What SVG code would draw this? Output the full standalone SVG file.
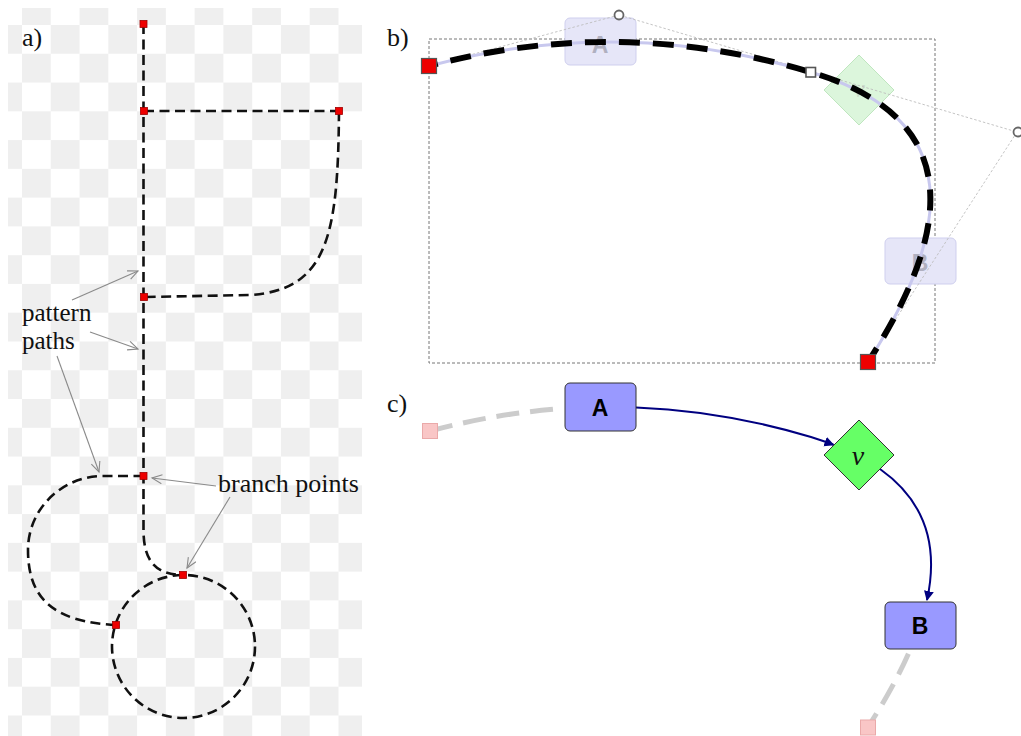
<svg xmlns="http://www.w3.org/2000/svg" width="1021" height="736" viewBox="0 0 1021 736">
<style>
.lbl{font-family:"Liberation Serif","Times New Roman",serif;font-size:26px;fill:#111}
.lbl2{font-family:"Liberation Serif","Times New Roman",serif;font-size:25px;fill:#111}
.pp{fill:none;stroke:#111;stroke-width:2.6;stroke-dasharray:10,5.5}
.rp{fill:#ee0000;stroke:#a00000;stroke-width:0.8}
.ann{fill:none;stroke:#8a8a8a;stroke-width:1.1;marker-end:url(#open)}
.handle{fill:none;stroke:#bdbdbd;stroke-width:0.9;stroke-dasharray:2.5,2}
.big{fill:#ee0000;stroke:#555;stroke-width:1.2}
.ghost{fill:#e6e6f8;stroke:#cfcfee;stroke-width:1}
.node{fill:#9999ff;stroke:#333;stroke-width:1}
.ntxt{font-family:"Liberation Sans",Arial,sans-serif;font-weight:bold;font-size:23px;text-anchor:middle}
.edge{fill:none;stroke:#000080;stroke-width:2;marker-end:url(#tri)}
.gdash{fill:none;stroke:#cccccc;stroke-width:5;stroke-dasharray:23,11}
.pink{fill:#f9c6c6;stroke:#eaa9a9;stroke-width:1}
</style>
<defs>
<pattern id="chk" patternUnits="userSpaceOnUse" x="-6.77" y="-3.77" width="57.54" height="57.54">
<rect x="28.77" y="0" width="28.77" height="28.77" fill="#efefef"/>
<rect x="0" y="28.77" width="28.77" height="28.77" fill="#efefef"/>
</pattern>
<marker id="open" markerUnits="userSpaceOnUse" markerWidth="14" markerHeight="12" refX="11" refY="5" orient="auto">
<path d="M1,0.5 L11,5 L1,9.5" fill="none" stroke="#8a8a8a" stroke-width="1.1"/>
</marker>
<marker id="tri" markerUnits="userSpaceOnUse" markerWidth="12" markerHeight="12" refX="9" refY="5" orient="auto">
<path d="M0,0 L10,5 L0,10 Z" fill="#000080"/>
</marker>
</defs>
<rect width="1021" height="736" fill="#ffffff"/>

<!-- Panel a -->
<g id="panel-a">
<rect x="8" y="8" width="354" height="728" fill="url(#chk)"/>
<text class="lbl" x="22" y="46">a)</text>
<g id="pattern-paths">
<path class="pp" d="M143.5,24 L143.5,476 L143.5,530 C143.5,560 155,575 183,575"/>
<path class="pp" d="M144,111 L339,111"/>
<path class="pp" d="M339,111 C338,235 328,290 250,295 L144,297"/>
<path class="pp" d="M143.5,476 L100,476 C60,478 28,510 28,550 C28,600 55,622 116,625"/>
<circle class="pp" cx="183.5" cy="646.5" r="71.5"/>
</g>
<g id="branch-points">
<rect class="rp" x="140" y="20.5" width="7" height="7"/>
<rect class="rp" x="140.5" y="107.5" width="7" height="7"/>
<rect class="rp" x="335.5" y="107.5" width="7" height="7"/>
<rect class="rp" x="140.5" y="293.5" width="7" height="7"/>
<rect class="rp" x="140" y="472.5" width="7" height="7"/>
<rect class="rp" x="179.5" y="571.5" width="7" height="7"/>
<rect class="rp" x="112.5" y="621.5" width="7" height="7"/>
</g>
<g id="annotations">
<text class="lbl2" x="22" y="321">pattern</text>
<text class="lbl2" x="22" y="349">paths</text>
<text class="lbl" x="218" y="492">branch points</text>
<path class="ann" d="M72,300 L138,271"/>
<path class="ann" d="M90,332 L138,349"/>
<path class="ann" d="M57,356 L99,472"/>
<path class="ann" d="M216,486 L152,478"/>
<path class="ann" d="M230,497 L187,568"/>
</g>
</g>

<!-- Panel b -->
<g id="panel-b">
<text class="lbl" x="387" y="46">b)</text>
<rect x="429" y="39" width="506" height="324" fill="none" stroke="#777" stroke-width="1" stroke-dasharray="3,2"/>
<g id="b-ghost-A"><rect class="ghost" x="565" y="18" width="71" height="47" rx="5"/><text class="ntxt" x="600" y="53" fill="#b0b0c0">A</text></g>
<g id="b-ghost-v"><path d="M859,55 L894,90 L859,125 L824,90 Z" fill="#dcf6dc" stroke="#bfe6bf" stroke-width="1"/><text x="859" y="97" text-anchor="middle" font-family="Liberation Serif,serif" font-style="italic" font-size="26" fill="#c9dcc9">v</text></g>
<g id="b-ghost-B"><rect class="ghost" x="885" y="238" width="71" height="46" rx="5"/><text class="ntxt" x="920" y="271" fill="#b0b0c0">B</text></g>
<g id="b-handles">
<path class="handle" d="M429,66 L619,15 L1017,132 L868,362"/>
</g>
<g id="b-path">
<path d="M429,66 Q619,15 810,72 Q1017,132 868,362" fill="none" stroke="#c8c8ee" stroke-width="3"/>
<path d="M429,66 Q619,15 810,72 Q1017,132 868,362" fill="none" stroke="#000" stroke-width="6" stroke-dasharray="21,13" stroke-dashoffset="12"/>
</g>
<g id="b-nodes">
<rect class="big" x="421.5" y="58.5" width="15" height="15"/>
<rect class="big" x="860.5" y="354.5" width="15" height="15"/>
<rect x="806" y="67.5" width="9.5" height="9.5" fill="#fff" stroke="#555" stroke-width="1.6"/>
<circle cx="619" cy="15" r="4.5" fill="#fff" stroke="#666" stroke-width="1.8"/>
<circle cx="1018" cy="132" r="4.5" fill="#fff" stroke="#666" stroke-width="1.8"/>
</g>
</g>

<!-- Panel c -->
<g id="panel-c">
<text class="lbl" x="387" y="412">c)</text>
<g id="connectors">
<path class="gdash" d="M430,431 Q494.6,413.7 559.3,408.8"/>
<path class="edge" d="M636,407.5 Q723.3,410.8 811,437 Q822.4,440.6 833.5,444.8"/>
<path class="edge" d="M880,469 Q945.5,515.4 927,600"/>
<path class="gdash" d="M908.4,653.7 Q893.3,687.9 868,727"/>
</g>
<g id="c-start"><rect class="pink" x="422.5" y="423.5" width="15" height="15"/></g>
<g id="c-end"><rect class="pink" x="860.5" y="720" width="15" height="15"/></g>
<g id="node-A"><rect class="node" x="565" y="383" width="71" height="48" rx="5"/><text class="ntxt" x="600" y="416">A</text></g>
<g id="node-v"><path d="M859,420 L894,455 L859,490 L824,455 Z" fill="#66ff66" stroke="#333" stroke-width="1"/><text x="858" y="465" text-anchor="middle" font-family="Liberation Serif,serif" font-style="italic" font-size="28" fill="#111">v</text></g>
<g id="node-B"><rect class="node" x="885" y="602" width="71" height="47" rx="5"/><text class="ntxt" x="920" y="634">B</text></g>
</g>
</svg>
